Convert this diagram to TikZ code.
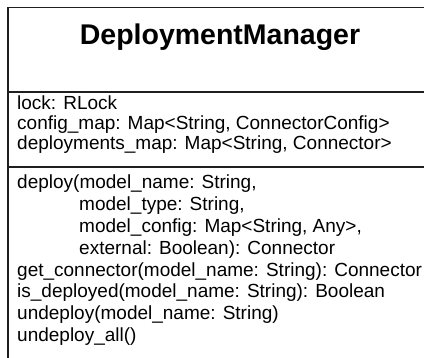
\documentclass[tikz,border=0pt]{standalone}
\usepackage{fontspec}
\setmainfont{Liberation Sans}
\begin{document}
\begin{tikzpicture}[x=1pt,y=1pt,
  border/.style={draw=black!88,line width=1.7pt},
  divider/.style={draw=black!88,line width=1.4pt},
  member/.style={anchor=base west,inner sep=0pt,font=\fontsize{19}{20}\selectfont},
  classtitle/.style={anchor=base,inner sep=0pt,font=\fontsize{28.5}{30}\selectfont\bfseries}]
\useasboundingbox (0,0) rectangle (424,-358);
\clip (0,0) rectangle (424,-358);
\draw[border] (8,-380) -- (8,-7.5) -- (432,-7.5) -- (432,-380);
\draw[divider] (8,-92) -- (432,-92);
\draw[divider] (8,-167) -- (432,-167);
\node[classtitle] (title) at (220,-45) {DeploymentManager};
\node[member] (a1) at (17,-109.5) {lock: RLock};
\node[member] (a2) at (17,-129.5) {config\_map: Map<String, ConnectorConfig>};
\node[member] (a3) at (17,-149.5) {deployments\_map: Map<String, Connector>};
\node[member] (m1) at (17,-189) {deploy(model\_name: String,};
\node[member] (m2) at (79,-210.8) {model\_type: String,};
\node[member] (m3) at (79,-232.6) {model\_config: Map<String, Any>,};
\node[member] (m4) at (79,-254.4) {external: Boolean): Connector};
\node[member] (m5) at (17,-276.2) {get\_connector(model\_name: String): Connector};
\node[member] (m6) at (17,-298) {is\_deployed(model\_name: String): Boolean};
\node[member] (m7) at (17,-319.8) {undeploy(model\_name: String)};
\node[member] (m8) at (17,-341.6) {undeploy\_all()};
\end{tikzpicture}
\end{document}
